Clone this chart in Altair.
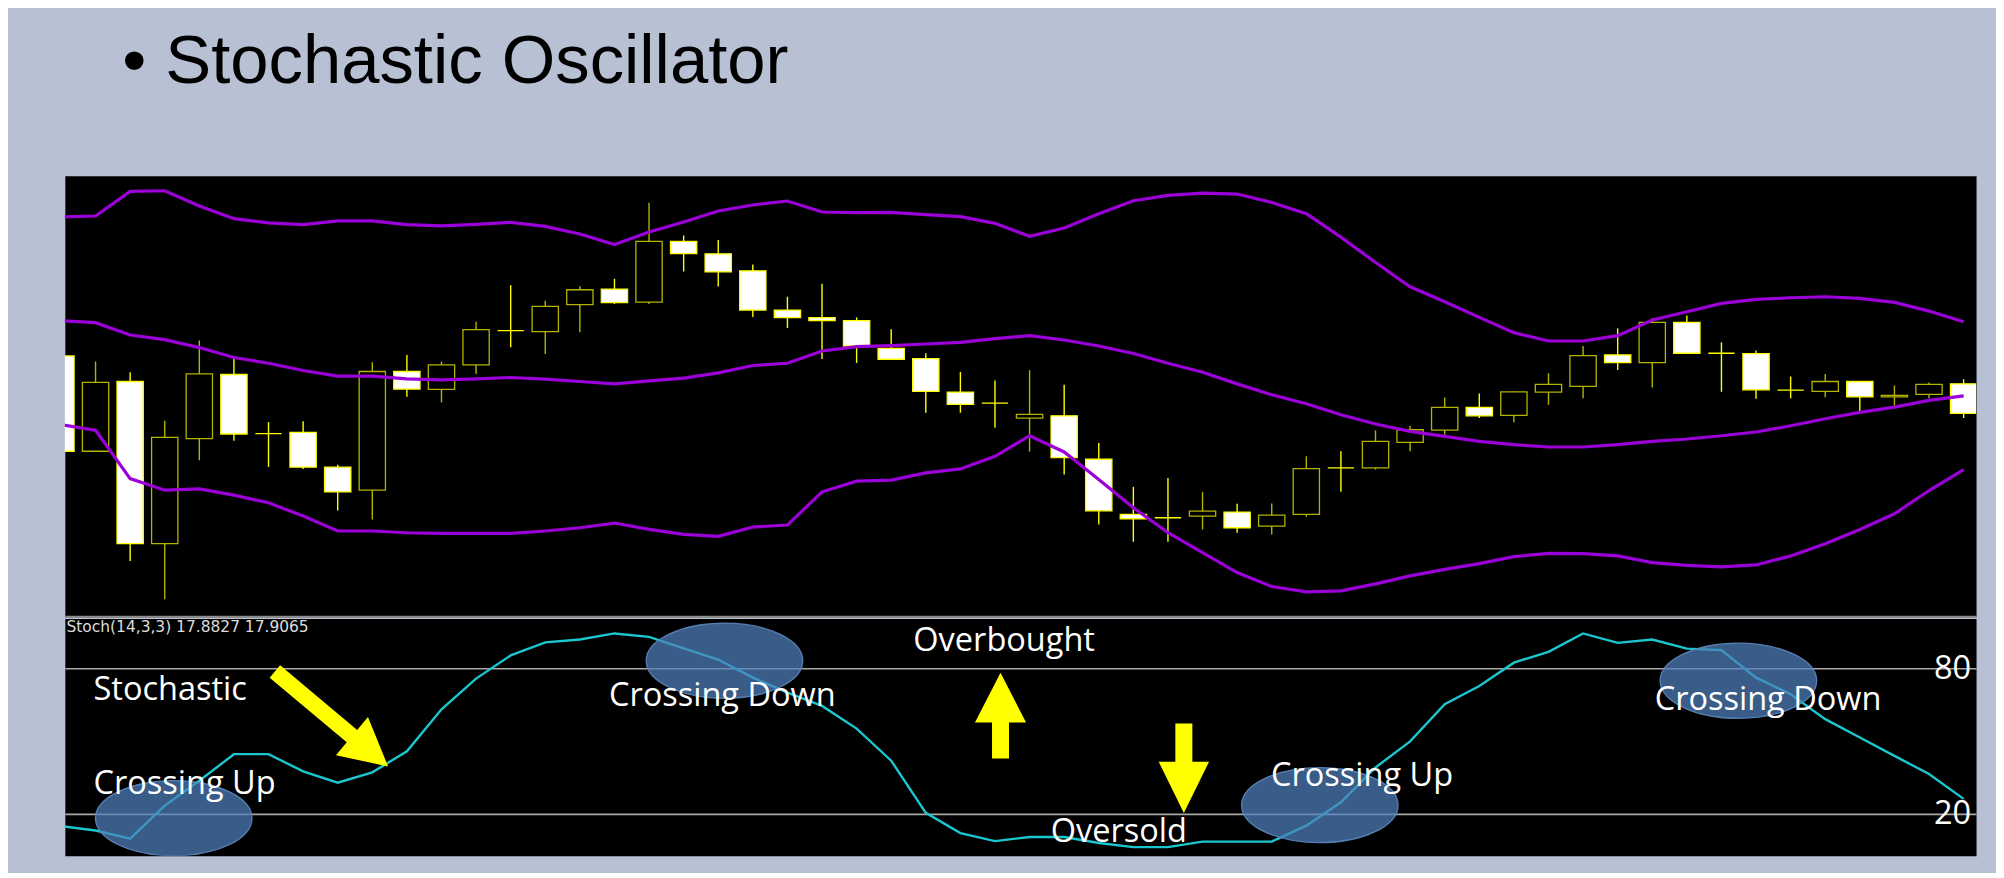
import altair as alt
import pandas as pd

# ---------------- data ----------------
bar_index = list(range(56))

open_price = [261.3, 165.7, 235.7, 73.0, 178.3, 242.7, 183.3, 184.7, 149.7, 126.7,
              245.7, 227.7, 252.3, 286.7, 285.7, 312.7, 328.3, 315.3, 376.3, 363.7,
              346.7, 307.3, 299.7, 296.7, 269.0, 258.7, 225.0, 214.0, 199.0, 201.3,
              157.7, 102.3, 99.0, 100.7, 104.7, 90.7, 102.3, 149.0, 149.0, 174.7,
              187.0, 209.7, 201.7, 225.0, 230.7, 262.3, 254.7, 295.0, 264.0, 263.7,
              227.0, 225.7, 235.7, 220.3, 222.7, 233.3]
high_price = [261.3, 255.7, 245.0, 196.3, 276.7, 259.0, 195.0, 195.7, 152.3, 255.0,
              262.3, 255.7, 295.7, 332.3, 316.7, 331.3, 338.7, 415.0, 382.0, 377.7,
              353.0, 320.7, 333.7, 300.0, 288.0, 264.0, 245.3, 236.7, 247.0, 232.3,
              174.0, 130.0, 139.0, 125.0, 113.0, 113.3, 160.7, 165.7, 186.7, 191.0,
              219.7, 223.7, 226.0, 244.0, 271.3, 289.0, 299.0, 302.0, 275.0, 266.7,
              240.7, 243.3, 235.7, 231.7, 234.7, 238.0]
low_price = [165.7, 165.7, 55.7, 17.3, 156.7, 176.3, 150.0, 148.0, 106.3, 97.3,
             220.3, 214.7, 243.3, 270.0, 263.3, 285.0, 313.3, 313.3, 346.0, 331.0,
             300.3, 289.3, 258.3, 254.3, 257.3, 204.3, 204.3, 189.3, 165.3, 142.3,
             92.3, 75.0, 75.0, 87.3, 84.0, 82.3, 100.0, 125.0, 147.3, 165.7,
             182.3, 199.0, 194.7, 212.3, 219.0, 247.3, 229.7, 264.0, 225.3, 218.3,
             219.0, 220.0, 204.7, 211.3, 219.0, 199.0]
close_price = [165.7, 234.7, 73.0, 179.7, 243.3, 183.0, 183.3, 149.7, 125.0, 245.7,
               228.0, 252.3, 287.7, 286.7, 311.0, 327.7, 314.7, 376.3, 364.0, 345.7,
               307.3, 299.7, 296.7, 271.3, 258.0, 225.7, 212.7, 214.0, 202.7, 159.3,
               106.0, 98.0, 99.0, 105.7, 89.0, 101.7, 148.3, 149.0, 175.7, 187.3,
               209.7, 201.3, 225.3, 232.7, 261.7, 254.7, 295.0, 264.0, 264.0, 227.3,
               227.0, 235.7, 220.3, 221.7, 232.7, 203.7]

upper_band = [400.7, 401.7, 426.3, 427.0, 411.7, 399.0, 394.7, 393.0, 396.7, 396.7,
              393.0, 391.7, 393.3, 395.3, 391.3, 383.7, 373.0, 385.7, 395.7, 406.7,
              412.7, 416.7, 405.7, 405.0, 405.3, 403.0, 401.0, 394.3, 381.3, 389.7,
              404.0, 417.0, 422.3, 424.7, 423.7, 415.3, 404.0, 380.5, 355.0, 330.7,
              315.7, 300.0, 284.7, 276.3, 276.3, 281.7, 297.3, 305.7, 314.0, 318.0,
              319.7, 320.7, 319.0, 315.0, 306.3, 295.7]
middle_band = [296.7, 294.7, 282.3, 277.7, 269.7, 259.7, 254.0, 246.7, 241.0, 241.0,
               238.3, 237.3, 238.3, 239.7, 238.0, 235.7, 233.3, 236.3, 239.0, 244.3,
               251.7, 254.0, 266.3, 270.7, 271.7, 273.3, 275.0, 278.7, 281.7, 277.3,
               271.3, 263.7, 254.0, 245.0, 233.3, 222.3, 213.3, 202.3, 193.0, 185.7,
               180.7, 175.7, 172.3, 170.0, 170.0, 172.3, 175.7, 178.0, 181.3, 185.0,
               191.3, 198.3, 204.7, 210.0, 216.7, 221.3]
lower_band = [192.3, 186.7, 138.3, 126.7, 128.0, 121.7, 114.0, 100.7, 85.7, 85.7,
              84.0, 83.3, 83.3, 83.3, 85.7, 89.0, 93.7, 87.3, 82.3, 80.3,
              89.7, 91.7, 125.0, 135.7, 136.7, 144.0, 148.0, 160.7, 181.3, 165.0,
              137.3, 109.0, 84.0, 64.0, 44.0, 30.0, 24.7, 25.7, 32.7, 40.7,
              47.3, 53.0, 60.0, 63.3, 63.0, 60.7, 54.0, 51.3, 49.7, 51.7,
              60.7, 73.0, 87.3, 103.0, 126.3, 147.3]

stoch_k = [14.8, 13.0, 9.6, 23.3, 33.6, 44.6, 44.6, 37.5, 32.8, 37.1,
           45.8, 63.2, 75.9, 85.5, 90.9, 92.1, 94.6, 93.2, 88.4, 83.8,
           76.3, 70.1, 64.6, 55.2, 41.9, 20.3, 11.9, 8.6, 10.3, 10.3,
           7.8, 6.1, 6.1, 8.4, 8.4, 8.4, 15.0, 24.7, 39.1, 49.9,
           65.3, 72.8, 82.5, 87.0, 94.6, 90.7, 92.1, 88.3, 87.7, 76.3,
           69.4, 59.1, 51.5, 43.9, 36.4, 26.1]

level_values = [20, 80]

label_text = ["Stochastic", "Crossing Up", "Crossing Down", "Overbought",
              "Oversold", "Crossing Up", "Crossing Down"]
label_bar = [0.94, 0.94, 15.84, 24.64, 28.61, 34.98, 46.07]
label_value = [67.05, 28.1, 64.6, 87.3, 8.2, 31.6, 62.9]

header_text = ["Stoch(14,3,3) 17.8827 17.9065"]
header_bar = [0.16]
header_value = [95.4]

ellipse_bar = [3.26, 19.18, 36.39, 48.49]
ellipse_value = [18.1, 83.3, 23.5, 75.0]

arrow_bar = [7.82, 27.16, 32.46]
arrow_value = [59.2, 60.6, 38.8]

# ---------------- tables ----------------
candles = pd.DataFrame({"i": bar_index, "open": open_price, "high": high_price,
                        "low": low_price, "close": close_price})
bands = pd.DataFrame({"i": bar_index, "upper": upper_band,
                      "middle": middle_band, "lower": lower_band})
stoch = pd.DataFrame({"i": bar_index, "k": stoch_k})
labels = pd.DataFrame({"i": label_bar, "v": label_value, "t": label_text})
header = pd.DataFrame({"i": header_bar, "v": header_value, "t": header_text})
ellipses = pd.DataFrame({"i": ellipse_bar, "v": ellipse_value})
arrows = pd.DataFrame({"i": arrow_bar, "v": arrow_value})

# ---------------- styles ----------------
PURPLE = "#9B00D8"
CYAN = "#1CC6CF"
BULL = "#B3B300"
BEAR = "#FFFF00"
ANNOT_FONT = "Open Sans"

ELLIPSE = ("M -1 0 C -1 -0.265 -0.552 -0.48 0 -0.48 C 0.552 -0.48 1 -0.265 1 0 "
           "C 1 0.265 0.552 0.48 0 0.48 C -0.552 0.48 -1 0.265 -1 0 Z")
ARROW_DIAG = ("M 0 -1 L 0.337 -0.362 L 0.11 -0.362 L 0.11 1 L -0.11 1 "
              "L -0.11 -0.362 L -0.337 -0.362 Z")
ARROW_UP = ("M 0 -1 L 0.596 0.163 L 0.198 0.163 L 0.198 1 L -0.198 1 "
            "L -0.198 0.163 L -0.596 0.163 Z")
ARROW_DOWN = ("M 0 -1 L 0.563 0.144 L 0.19 0.144 L 0.19 1 L -0.19 1 "
              "L -0.19 0.144 L -0.563 0.144 Z")

x_scale = alt.Scale(domain=[0.112, 55.36], nice=False, zero=False)
up_scale = alt.Scale(domain=[0, 442], nice=False, zero=False)
lo_scale = alt.Scale(domain=[2.54, 100.8], nice=False, zero=False)

up_x_axis = alt.Axis(labels=False, ticks=False, grid=False, domain=True,
                     domainColor="#8C8C8C", domainWidth=2.2, title=None)
lo_y_axis = alt.Axis(orient="right", values=level_values, grid=True,
                     gridColor="#A8A8A8", gridWidth=1.6, domain=False, ticks=False,
                     tickSize=0, labelPadding=-5.4, labelAlign="right",
                     labelBaseline="middle", labelFont=ANNOT_FONT, labelFontSize=32.6,
                     labelColor="white", title=None)

is_up = "datum.close > datum.open"

# ---------------- upper panel ----------------
wick = alt.Chart(candles).mark_rule(strokeWidth=1.4, clip=True).encode(
    x=alt.X("i:Q", scale=x_scale, axis=up_x_axis),
    y=alt.Y("low:Q", scale=up_scale, axis=None),
    y2="high:Q",
    stroke=alt.condition(is_up, alt.value(BULL), alt.value(BEAR)),
)
body = alt.Chart(candles).transform_calculate(
    x_lo="datum.i - 0.38", x_hi="datum.i + 0.38"
).mark_bar(strokeWidth=1.3, clip=True).encode(
    x=alt.X("x_lo:Q", scale=x_scale, axis=up_x_axis),
    x2="x_hi:Q",
    y=alt.Y("open:Q", scale=up_scale, axis=None),
    y2="close:Q",
    fill=alt.condition(is_up, alt.value("black"), alt.value("white")),
    stroke=alt.condition(is_up, alt.value(BULL), alt.value(BEAR)),
)
band_layers = [
    alt.Chart(bands).mark_line(color=PURPLE, strokeWidth=3.2, clip=True).encode(
        x=alt.X("i:Q", scale=x_scale, axis=up_x_axis),
        y=alt.Y(f"{col}:Q", scale=up_scale, axis=None),
    )
    for col in ["upper", "middle", "lower"]
]
upper = alt.layer(wick, body, *band_layers).properties(width=1917, height=442)

# ---------------- lower panel ----------------
lx = alt.X("i:Q", scale=x_scale, axis=None)

stoch_line = alt.Chart(stoch).mark_line(color=CYAN, strokeWidth=2.4, clip=True).encode(
    x=lx, y=alt.Y("k:Q", scale=lo_scale, axis=lo_y_axis)
)
ell = alt.Chart(ellipses).mark_point(
    shape=ELLIPSE, size=24649, filled=True, fill="#4F81BD", fillOpacity=0.72,
    opacity=1, stroke="#5D88BE", strokeWidth=1.3, strokeOpacity=0.9, clip=True
).encode(x=lx, y=alt.Y("v:Q", scale=lo_scale, axis=lo_y_axis))

txt = alt.Chart(labels).mark_text(
    align="left", baseline="alphabetic", font=ANNOT_FONT, fontSize=32.6, color="white"
).encode(x=lx, y=alt.Y("v:Q", scale=lo_scale, axis=lo_y_axis), text="t:N")

hdr = alt.Chart(header).mark_text(
    align="left", baseline="alphabetic", font="DejaVu Sans", fontSize=15.5, color="#DDDDDD"
).encode(x=lx, y=alt.Y("v:Q", scale=lo_scale, axis=lo_y_axis), text="t:N")

arrow_specs = [(ARROW_DIAG, 21963, 130), (ARROW_UP, 7396, 0), (ARROW_DOWN, 8046, 180)]
arrow_layers = [
    alt.Chart(arrows.iloc[[k]]).mark_point(
        shape=shp, size=sz, angle=ang, filled=True, fill="#FFFF00", opacity=1,
        strokeWidth=0
    ).encode(x=lx, y=alt.Y("v:Q", scale=lo_scale, axis=lo_y_axis))
    for k, (shp, sz, ang) in enumerate(arrow_specs)
]

lower = alt.layer(stoch_line, ell, txt, hdr, *arrow_layers).properties(width=1917, height=238)

chart = alt.vconcat(upper, lower, spacing=0).resolve_scale(y="independent").properties(
    title=alt.TitleParams(
        text="• Stochastic Oscillator", anchor="start", frame="group",
        font="Liberation Sans", fontSize=69, fontWeight="normal", color="black",
        baseline="top", offset=78.5, dx=57.5
    ),
    padding={"left": 56, "top": 19, "right": 19, "bottom": 15},
    background="#B7C1D3",
).configure_view(fill="black", stroke="transparent")

chart.save("out.html", embed_options={"renderer": "svg", "actions": False})
